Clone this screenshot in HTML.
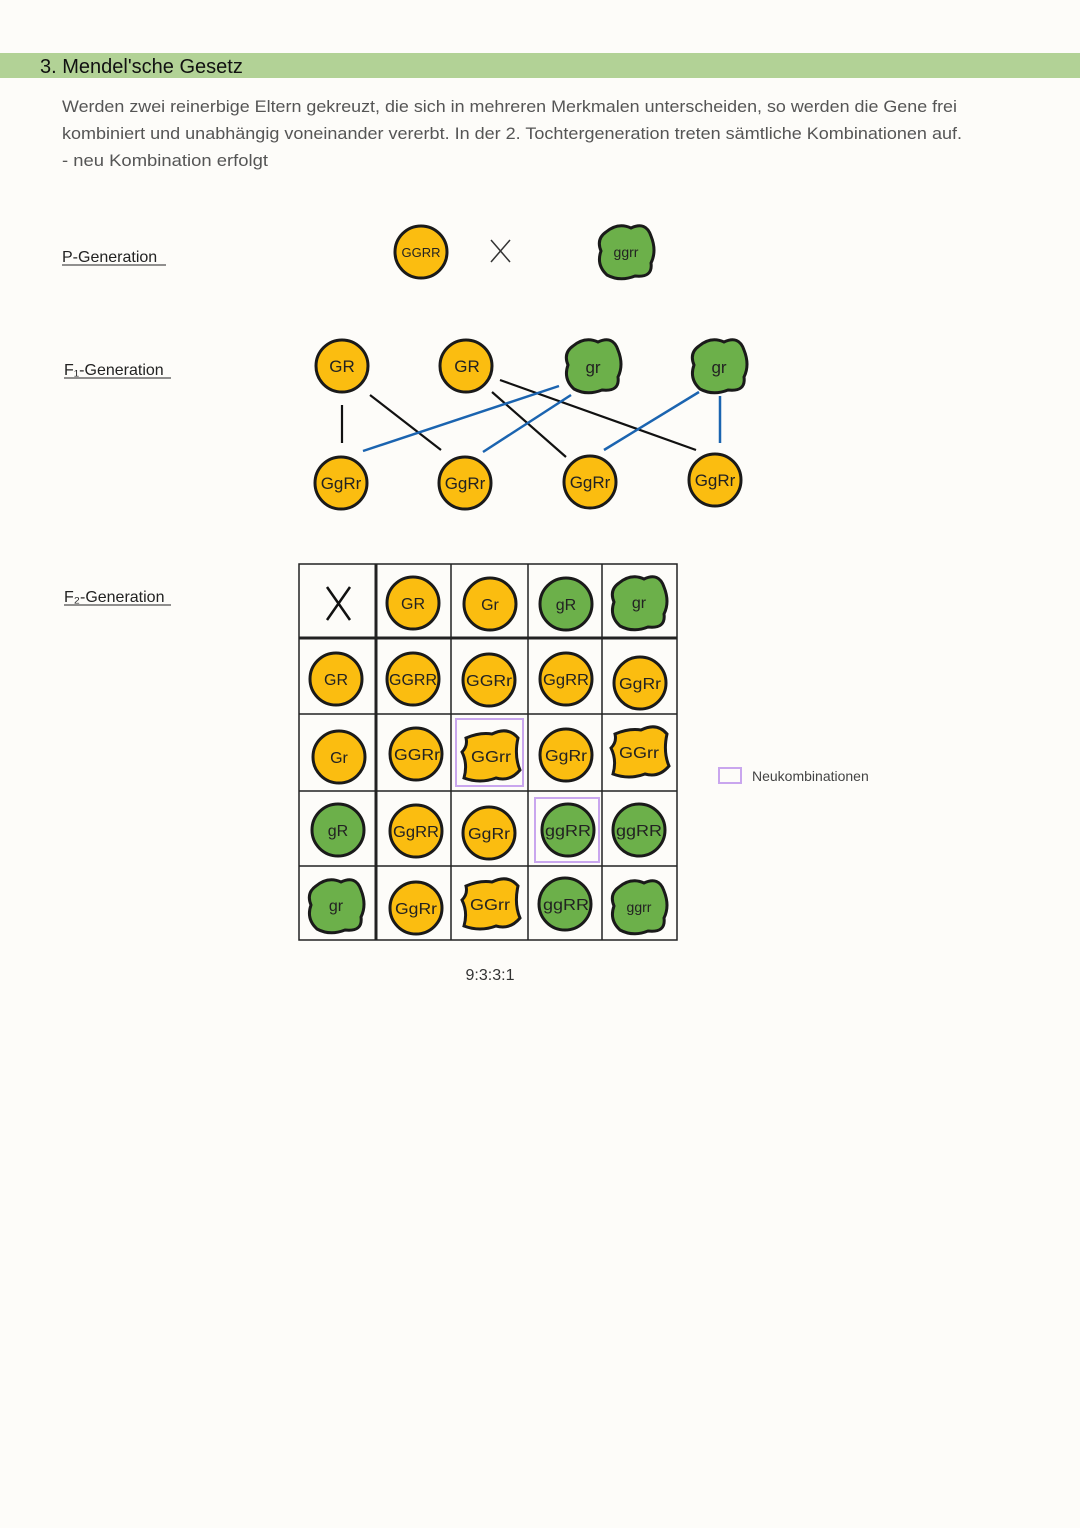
<!DOCTYPE html>
<html><head><meta charset="utf-8"><style>
html,body{margin:0;padding:0;background:#fdfcf9;}
svg{display:block;}
text{font-family:"Liberation Sans",sans-serif;}
</style></head><body>
<svg width="1080" height="1528" viewBox="0 0 1080 1528" xmlns="http://www.w3.org/2000/svg">
<defs>
<path id="blob" d="M-20,-19 Q-8,-29 5,-23 Q20,-30 25,-15 Q31,0 25,12 Q27,27 9,25 Q-6,31 -19,24 Q-30,14 -25,0 Q-30,-12 -20,-19Z"/>
<path id="blob2" d="M-24,-18 Q-10,-24 2,-22 Q18,-30 28,-18 Q24,0 30,14 Q20,26 6,22 Q-10,28 -26,22 Q-22,8 -28,-4 Q-22,-10 -24,-18Z"/>
</defs>
<rect x="0" y="0" width="1080" height="1528" fill="#fdfcf9"/>
<rect x="0" y="53" width="1080" height="25" fill="#b2d296"/>
<text x="40" y="73" font-size="20" fill="#111">3. Mendel'sche Gesetz</text>
<g font-size="16.5" fill="#555">
<text x="62" y="112" textLength="895" lengthAdjust="spacingAndGlyphs">Werden zwei reinerbige Eltern gekreuzt, die sich in mehreren Merkmalen unterscheiden, so werden die Gene frei</text>
<text x="62" y="139" textLength="900" lengthAdjust="spacingAndGlyphs">kombiniert und unabhängig voneinander vererbt. In der 2. Tochtergeneration treten sämtliche Kombinationen auf.</text>
<text x="62" y="166" textLength="206" lengthAdjust="spacingAndGlyphs">- neu Kombination erfolgt</text>
</g>
<g font-size="16" fill="#222">
<text x="62" y="262">P-Generation</text><line x1="62" y1="265" x2="166" y2="265" stroke="#222" stroke-width="1"/>
<text x="64" y="375">F₁-Generation</text><line x1="64" y1="378" x2="171" y2="378" stroke="#222" stroke-width="1"/>
<text x="64" y="602">F₂-Generation</text><line x1="64" y1="605" x2="171" y2="605" stroke="#222" stroke-width="1"/>
</g>
<g stroke="#1a1a1a" stroke-width="3">
<circle cx="421" cy="252" r="26" fill="#fbbd10"/>
<use href="#blob" x="626" y="251" fill="#6cb04a"/>
</g>
<path d="M491,240 L510,262 M510,240 L491,262" stroke="#333" stroke-width="1.5" fill="none"/>
<text x="421" y="257" font-size="13" text-anchor="middle" fill="#222">GGRR</text>
<text x="626" y="257" font-size="14" text-anchor="middle" fill="#222">ggrr</text>
<g stroke="#111" stroke-width="2.2">
<line x1="342" y1="405" x2="342" y2="443"/>
<line x1="370" y1="395" x2="441" y2="450"/>
<line x1="492" y1="392" x2="566" y2="457"/>
<line x1="500" y1="380" x2="696" y2="450"/>
</g>
<g stroke="#1b64b0" stroke-width="2.5">
<line x1="363" y1="451" x2="559" y2="386"/>
<line x1="483" y1="452" x2="571" y2="395"/>
<line x1="604" y1="450" x2="699" y2="392"/>
<line x1="720" y1="396" x2="720" y2="443"/>
</g>
<g stroke="#1a1a1a" stroke-width="3" fill="#fbbd10">
<circle cx="342" cy="366" r="26"/><circle cx="466" cy="366" r="26"/>
<use href="#blob" x="593" y="365" fill="#6cb04a"/>
<use href="#blob" x="719" y="365" fill="#6cb04a"/>
<circle cx="341" cy="483" r="26"/><circle cx="465" cy="483" r="26"/>
<circle cx="590" cy="482" r="26"/><circle cx="715" cy="480" r="26"/>
</g>
<g font-size="17" text-anchor="middle" fill="#222">
<text x="342" y="372">GR</text><text x="467" y="372">GR</text>
<text x="593" y="373">gr</text><text x="719" y="373">gr</text>
<text x="341" y="489">GgRr</text><text x="465" y="489">GgRr</text>
<text x="590" y="488">GgRr</text><text x="715" y="486">GgRr</text>
</g>
<g stroke="#222" stroke-width="1.5" fill="none">
<rect x="299" y="564" width="378" height="376"/>
<line x1="451" y1="564" x2="451" y2="940"/>
<line x1="528" y1="564" x2="528" y2="940"/>
<line x1="602" y1="564" x2="602" y2="940"/>
<line x1="299" y1="714" x2="677" y2="714"/>
<line x1="299" y1="791" x2="677" y2="791"/>
<line x1="299" y1="866" x2="677" y2="866"/>
</g>
<line x1="376" y1="564" x2="376" y2="940" stroke="#222" stroke-width="3"/>
<line x1="299" y1="638" x2="677" y2="638" stroke="#222" stroke-width="3"/>
<path d="M327,587 L350,620 M350,587 L327,620" stroke="#111" stroke-width="2.5"/>
<g fill="none" stroke="#c9a6ee" stroke-width="2">
<rect x="456" y="719" width="67" height="67"/>
<rect x="535" y="798" width="64" height="64"/>
<rect x="719" y="768" width="22" height="15"/>
</g>
<g stroke="#1a1a1a" stroke-width="3">
<circle cx="413" cy="603" r="26" fill="#fbbd10"/>
<circle cx="490" cy="604" r="26" fill="#fbbd10"/>
<circle cx="566" cy="604" r="26" fill="#6cb04a"/>
<use href="#blob" x="639" y="602" fill="#6cb04a"/>
<circle cx="336" cy="679" r="26" fill="#fbbd10"/>
<circle cx="413" cy="679" r="26" fill="#fbbd10"/>
<circle cx="489" cy="680" r="26" fill="#fbbd10"/>
<circle cx="566" cy="679" r="26" fill="#fbbd10"/>
<circle cx="640" cy="683" r="26" fill="#fbbd10"/>
<circle cx="339" cy="757" r="26" fill="#fbbd10"/>
<circle cx="416" cy="754" r="26" fill="#fbbd10"/>
<use href="#blob2" x="490" y="756" fill="#fbbd10"/>
<circle cx="566" cy="755" r="26" fill="#fbbd10"/>
<use href="#blob2" x="639" y="752" fill="#fbbd10"/>
<circle cx="338" cy="830" r="26" fill="#6cb04a"/>
<circle cx="416" cy="831" r="26" fill="#fbbd10"/>
<circle cx="489" cy="833" r="26" fill="#fbbd10"/>
<circle cx="568" cy="830" r="26" fill="#6cb04a"/>
<circle cx="639" cy="830" r="26" fill="#6cb04a"/>
<use href="#blob" x="336" y="905" fill="#6cb04a"/>
<circle cx="416" cy="908" r="26" fill="#fbbd10"/>
<use href="#blob2" x="490" y="904" fill="#fbbd10"/>
<circle cx="565" cy="904" r="26" fill="#6cb04a"/>
<use href="#blob" x="639" y="906" fill="#6cb04a"/>
</g>
<g font-size="16" text-anchor="middle" fill="#222">
<text x="413" y="609">GR</text><text x="490" y="610">Gr</text><text x="566" y="610">gR</text><text x="639" y="608">gr</text>
<text x="336" y="685">GR</text>
<text x="413" y="685" textLength="48" lengthAdjust="spacingAndGlyphs">GGRR</text>
<text x="489" y="686" textLength="46" lengthAdjust="spacingAndGlyphs">GGRr</text>
<text x="566" y="685" textLength="46" lengthAdjust="spacingAndGlyphs">GgRR</text>
<text x="640" y="689" textLength="42" lengthAdjust="spacingAndGlyphs">GgRr</text>
<text x="339" y="763">Gr</text>
<text x="417" y="760" textLength="46" lengthAdjust="spacingAndGlyphs">GGRr</text>
<text x="491" y="762" textLength="40" lengthAdjust="spacingAndGlyphs">GGrr</text>
<text x="566" y="761" textLength="42" lengthAdjust="spacingAndGlyphs">GgRr</text>
<text x="639" y="758" textLength="40" lengthAdjust="spacingAndGlyphs">GGrr</text>
<text x="338" y="836">gR</text>
<text x="416" y="837" textLength="46" lengthAdjust="spacingAndGlyphs">GgRR</text>
<text x="489" y="839" textLength="42" lengthAdjust="spacingAndGlyphs">GgRr</text>
<text x="568" y="836" textLength="46" lengthAdjust="spacingAndGlyphs">ggRR</text>
<text x="639" y="836" textLength="46" lengthAdjust="spacingAndGlyphs">ggRR</text>
<text x="336" y="911">gr</text>
<text x="416" y="914" textLength="42" lengthAdjust="spacingAndGlyphs">GgRr</text>
<text x="490" y="910" textLength="40" lengthAdjust="spacingAndGlyphs">GGrr</text>
<text x="566" y="910" textLength="46" lengthAdjust="spacingAndGlyphs">ggRR</text>
<text x="639" y="912" font-size="14">ggrr</text>
</g>
<text x="752" y="781" font-size="14" fill="#444">Neukombinationen</text>
<text x="490" y="980" font-size="16" text-anchor="middle" fill="#333">9:3:3:1</text>
</svg>
</body></html>
